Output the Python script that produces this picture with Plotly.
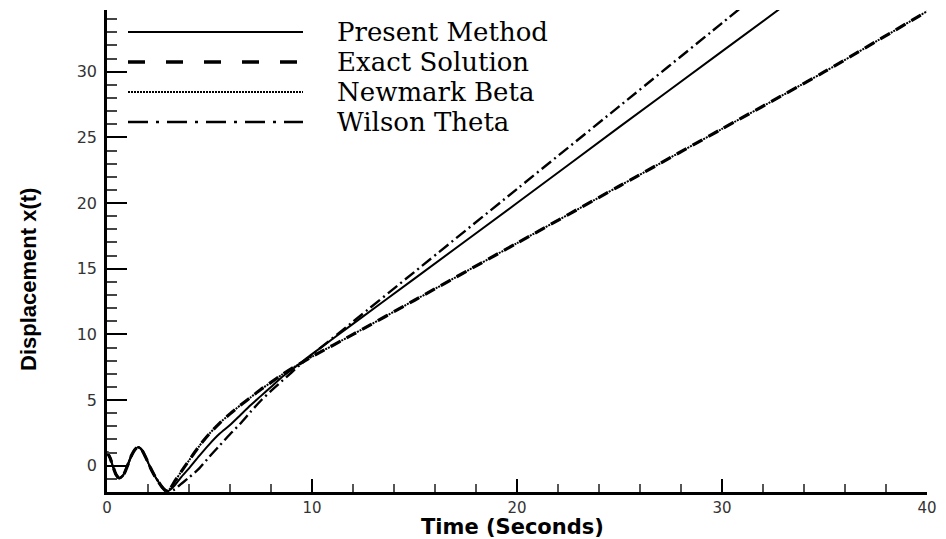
import plotly.graph_objects as go

# ---------------- data ----------------
t_exact = [0, 0.15, 0.3, 0.45, 0.6, 0.8, 1.0, 1.2, 1.4, 1.55, 1.7, 1.9, 2.1, 2.3, 2.5, 2.7,
           2.9, 3.1, 3.3, 3.6, 4.0, 4.5, 5.0, 5.5, 6.0, 6.5, 7.0, 7.5, 8.0, 8.5, 9.0, 10,
           12, 15, 20, 25, 30, 35, 40]
x_exact = [1.05, 0.6, -0.1, -0.7, -0.95, -0.7, 0.0, 0.8, 1.3, 1.4, 1.2, 0.6, -0.1, -0.7, -1.2, -1.65,
           -1.95, -1.7, -1.2, -0.5, 0.4, 1.5, 2.45, 3.25, 3.95, 4.6, 5.2, 5.8, 6.35, 6.9, 7.4, 8.3,
           10.0, 12.6, 16.95, 21.3, 25.65, 30.0, 34.6]

t_newmark = t_exact
x_newmark = [1.05, 0.6, -0.1, -0.7, -0.95, -0.7, 0.0, 0.8, 1.3, 1.4, 1.2, 0.6, -0.1, -0.7, -1.2, -1.65,
             -1.95, -1.7, -1.2, -0.5, 0.4, 1.5, 2.45, 3.25, 3.95, 4.6, 5.2, 5.8, 6.35, 6.9, 7.4, 8.3,
             10.0, 12.6, 16.95, 21.3, 25.65, 30.0, 34.6]

t_present = [0, 0.15, 0.3, 0.45, 0.6, 0.8, 1.0, 1.2, 1.4, 1.55, 1.7, 1.9, 2.1, 2.3, 2.5, 2.7,
             2.95, 3.3, 3.6, 4.0, 4.5, 5.0, 5.5, 6.0, 6.5, 7.0, 7.5, 8.0, 8.5, 9.0, 9.5, 10,
             12, 15, 20, 25, 30, 33]
x_present = [1.05, 0.6, -0.1, -0.7, -0.95, -0.7, 0.0, 0.8, 1.3, 1.4, 1.2, 0.6, -0.1, -0.7, -1.2, -1.65,
             -1.95, -1.5, -0.9, -0.2, 0.75, 1.65, 2.45, 3.1, 3.85, 4.6, 5.3, 6.0, 6.7, 7.3, 7.9, 8.5,
             10.8, 14.25, 20.0, 25.8, 31.55, 35.0]

t_wilson = [0, 0.15, 0.3, 0.45, 0.6, 0.8, 1.0, 1.2, 1.4, 1.55, 1.7, 1.9, 2.1, 2.3, 2.5, 2.7,
            3.0, 3.3, 3.6, 4.0, 4.5, 5.0, 5.5, 6.0, 6.5, 7.0, 7.5, 8.0, 8.5, 9.0, 9.5, 10,
            12, 15, 20, 25, 30, 31.5]
x_wilson = [1.05, 0.6, -0.1, -0.7, -0.95, -0.7, 0.0, 0.8, 1.3, 1.4, 1.2, 0.6, -0.1, -0.7, -1.2, -1.65,
            -1.95, -1.8, -1.4, -0.9, -0.2, 0.7, 1.55, 2.4, 3.2, 4.1, 4.95, 5.7, 6.4, 7.1, 7.8, 8.45,
            10.97, 14.76, 21.07, 27.38, 33.7, 35.6]

legend_labels = ["Present Method", "Exact Solution", "Newmark Beta", "Wilson Theta"]
x_title = "Time (Seconds)"
y_title = "Displacement x(t)"

# ---------------- figure ----------------
fig = go.Figure()
fig.add_trace(go.Scatter(x=t_exact, y=x_exact, mode="lines", name=legend_labels[1],
                         line=dict(color="black", width=3.2, dash="11px,7px", shape="spline", smoothing=0.7)))
fig.add_trace(go.Scatter(x=t_newmark, y=x_newmark, mode="lines", name=legend_labels[2],
                         line=dict(color="black", width=2, dash="2px,1px", shape="spline", smoothing=0.7)))
fig.add_trace(go.Scatter(x=t_present, y=x_present, mode="lines", name=legend_labels[0],
                         line=dict(color="black", width=2, shape="spline", smoothing=0.7)))
fig.add_trace(go.Scatter(x=t_wilson, y=x_wilson, mode="lines", name=legend_labels[3],
                         line=dict(color="black", width=2.4, dash="12px,4px,2px,4px", shape="spline", smoothing=0.7)))

L, R, T, B = 107, 19, 10, 47
W, H = 946, 539
pw, ph = W - L - R, H - T - B

def px_x(px):
    return (px - L) / pw

def px_y(py):
    return (H - B - py) / ph

# legend drawn as layout shapes + text (matches long line samples of the reference)
leg_styles = [
    dict(color="black", width=2, dash="solid"),
    dict(color="black", width=3.5, dash="17px,21px"),
    dict(color="black", width=2, dash="2px,1px"),
    dict(color="black", width=2.5, dash="20px,8px,3px,8px"),
]
leg_y = [32, 62, 92, 122]
shapes = []
annotations = []
for lab, st, yy in zip(legend_labels, leg_styles, leg_y):
    shapes.append(dict(type="line", xref="paper", yref="paper",
                       x0=px_x(128), x1=px_x(303), y0=px_y(yy), y1=px_y(yy), line=st))
    annotations.append(dict(xref="paper", yref="paper", x=px_x(335), y=px_y(yy),
                            xanchor="left", yanchor="middle", text=lab, showarrow=False,
                            font=dict(family="DejaVu Serif", size=26, color="black")))

annotations.append(dict(xref="paper", yref="paper", x=px_x(28), y=px_y(280), text=y_title,
                        textangle=-90, showarrow=False, xanchor="center", yanchor="middle",
                        font=dict(family="Liberation Sans, Arial", size=22, color="black", weight="bold")))
annotations.append(dict(xref="paper", yref="paper", x=px_x(512), y=px_y(513), text=x_title,
                        showarrow=False, xanchor="center", yanchor="top",
                        font=dict(family="DejaVu Sans", size=21, color="black", weight="bold")))

tickfont = dict(family="DejaVu Sans", size=15, color="#333")
fig.update_layout(
    width=W, height=H,
    margin=dict(l=L, r=R, t=T, b=B, autoexpand=False),
    paper_bgcolor="white", plot_bgcolor="white",
    showlegend=False,
    shapes=shapes, annotations=annotations,
    xaxis=dict(range=[0, 40], tick0=0, dtick=10, ticks="inside", ticklen=13, tickwidth=2,
               tickcolor="black", showline=True, linecolor="black", linewidth=2.5,
               showgrid=False, zeroline=False, tickfont=tickfont,
               minor=dict(dtick=2, ticks="inside", ticklen=8, tickwidth=1.5, tickcolor="#555", showgrid=False)),
    yaxis=dict(range=[-2, 34.7], tick0=0, dtick=5, ticks="inside", ticklen=20, tickwidth=2,
               tickcolor="black", showline=True, linecolor="black", linewidth=2.5,
               showgrid=False, zeroline=False, tickfont=dict(family="DejaVu Sans", size=16, color="#333"),
               ticklabelstandoff=4,
               minor=dict(dtick=1, ticks="inside", ticklen=10, tickwidth=1.5, tickcolor="#444", showgrid=False)),
)

fig.write_html("out.html")
